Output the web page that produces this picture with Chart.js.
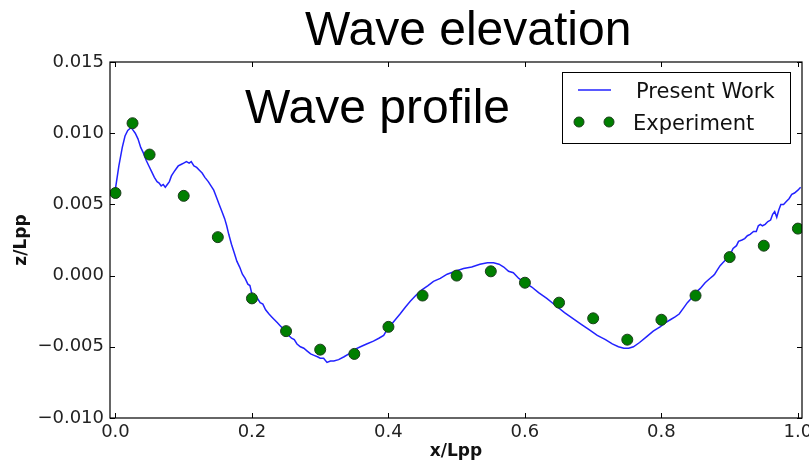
<!DOCTYPE html>
<html>
<head>
<meta charset="utf-8">
<script src="https://cdn.jsdelivr.net/npm/chart.js@4/dist/chart.umd.min.js"></script>
<style>
  html, body { margin: 0; padding: 0; background: #fff; }
  #wave { display: block; }
</style>
</head>
<body>
<canvas id="wave" width="809" height="466"></canvas>
<script>
// Valeurs
const xTicks = [0.0, 0.2, 0.4, 0.6, 0.8, 1.0];
const yTicks = [-0.010, -0.005, 0.000, 0.005, 0.010, 0.015];

const expX = [0.0, 0.025, 0.05, 0.1, 0.15, 0.2, 0.25, 0.3, 0.35, 0.4, 0.45,
              0.5, 0.55, 0.6, 0.65, 0.7, 0.75, 0.8, 0.85, 0.9, 0.95, 1.0];
const expY = [0.0058, 0.0107, 0.0085, 0.0056, 0.0027, -0.0016, -0.0039, -0.0052, -0.0055, -0.0036, -0.0014,
              0.0000, 0.0003, -0.0005, -0.0019, -0.0030, -0.0045, -0.0031, -0.0014, 0.0013, 0.0021, 0.0033];

const workX = [0.000, 0.005, 0.010, 0.014, 0.018, 0.023, 0.026, 0.029, 0.033, 0.037, 0.041, 0.045, 0.049,
               0.053, 0.057, 0.061, 0.064, 0.067, 0.070, 0.073, 0.076, 0.079, 0.082, 0.086, 0.089, 0.092,
               0.096, 0.100, 0.104, 0.108, 0.111, 0.115, 0.119, 0.123, 0.127, 0.131, 0.136, 0.140, 0.144,
               0.148, 0.152, 0.156, 0.160, 0.163, 0.166, 0.170, 0.174, 0.178, 0.182, 0.186, 0.190, 0.194,
               0.197, 0.200, 0.204, 0.208, 0.212, 0.216, 0.220, 0.225, 0.229, 0.233, 0.237, 0.241, 0.245,
               0.250, 0.254, 0.258, 0.262, 0.266, 0.271, 0.276, 0.281, 0.286, 0.291, 0.296, 0.300, 0.305,
               0.310, 0.315, 0.320, 0.327, 0.335, 0.342, 0.350, 0.359, 0.368, 0.378, 0.386, 0.393, 0.398,
               0.403, 0.410, 0.417, 0.425, 0.432, 0.440, 0.449, 0.458, 0.466, 0.476, 0.486, 0.498, 0.510,
               0.522, 0.534, 0.545, 0.554, 0.562, 0.569, 0.576, 0.583, 0.591, 0.600, 0.610, 0.620, 0.632,
               0.645, 0.658, 0.670, 0.682, 0.694, 0.706, 0.718, 0.728, 0.737, 0.745, 0.752, 0.759, 0.768,
               0.778, 0.788, 0.798, 0.806, 0.813, 0.820, 0.826, 0.832, 0.838, 0.844, 0.850, 0.857, 0.864,
               0.871, 0.876, 0.878, 0.882, 0.886, 0.890, 0.896, 0.900, 0.905, 0.910, 0.913, 0.918, 0.922,
               0.926, 0.930, 0.935, 0.939, 0.942, 0.945, 0.948, 0.952, 0.956, 0.960, 0.963, 0.966, 0.969,
               0.972, 0.975, 0.979, 0.983, 0.987, 0.991, 0.995, 1.000, 1.004];
const workY = [0.0061, 0.0077, 0.0090, 0.0098, 0.0102, 0.0104, 0.0102, 0.0100, 0.0096, 0.0090, 0.0086, 0.0081, 0.0077,
               0.0073, 0.0069, 0.0066, 0.0065, 0.0063, 0.0064, 0.0062, 0.0064, 0.0066, 0.0070, 0.0073, 0.0075, 0.0077,
               0.0078, 0.0079, 0.0080, 0.0079, 0.0080, 0.0077, 0.0076, 0.0074, 0.0072, 0.0069, 0.0066, 0.0063, 0.0060,
               0.0055, 0.0050, 0.0045, 0.0040, 0.0035, 0.0029, 0.0022, 0.0016, 0.0010, 0.0006, 0.0001, -0.0002, -0.0006,
               -0.0007, -0.0013, -0.0015, -0.0016, -0.0019, -0.0020, -0.0024, -0.0027, -0.0029, -0.0031, -0.0033, -0.0035, -0.0037,
               -0.0040, -0.0042, -0.0044, -0.0045, -0.0048, -0.0050, -0.0051, -0.0053, -0.0055, -0.0056, -0.0057, -0.0058, -0.0058,
               -0.0061, -0.0060, -0.0060, -0.0059, -0.0057, -0.0055, -0.0052, -0.0050, -0.0048, -0.0046, -0.0044, -0.0042, -0.0038,
               -0.0035, -0.0031, -0.0027, -0.0022, -0.0018, -0.0014, -0.0010, -0.0007, -0.0004, -0.0002, 0.0001, 0.0003, 0.0005,
               0.0006, 0.0008, 0.0009, 0.0009, 0.0008, 0.0006, 0.0003, 0.0002, -0.0002, -0.0005, -0.0008, -0.0012, -0.0016,
               -0.0021, -0.0026, -0.0030, -0.0034, -0.0038, -0.0042, -0.0045, -0.0048, -0.0050, -0.0051, -0.0051, -0.0050, -0.0047,
               -0.0043, -0.0039, -0.0036, -0.0033, -0.0031, -0.0029, -0.0027, -0.0023, -0.0019, -0.0016, -0.0012, -0.0009, -0.0005,
               -0.0002, 0.0000, 0.0001, 0.0004, 0.0007, 0.0009, 0.0012, 0.0014, 0.0019, 0.0021, 0.0024, 0.0025, 0.0026,
               0.0028, 0.0029, 0.0031, 0.0031, 0.0035, 0.0036, 0.0035, 0.0036, 0.0038, 0.0039, 0.0043, 0.0045, 0.0041,
               0.0046, 0.0050, 0.0050, 0.0052, 0.0054, 0.0057, 0.0058, 0.0060, 0.0062];

const lineColor = '#2222ff';
const dotColor = '#007f00';
const dotEdge = '#1c3d1c';
const tickFont = { family: 'DejaVu Sans', size: 18 };
const labelFont = { family: 'DejaVu Sans', size: 17, weight: 'bold' };

// Cadre, graduations vers l'intérieur, légende et textes
const decor = {
    id: 'decor',
    afterDatasetsDraw(chart) {
        const { ctx, chartArea: a, scales: { x, y } } = chart;
        ctx.save();
        ctx.strokeStyle = '#000';
        ctx.lineWidth = 1.2;
        ctx.strokeRect(a.left, a.top, a.right - a.left, a.bottom - a.top);
        ctx.lineWidth = 1;
        ctx.beginPath();
        xTicks.forEach(v => {
            const px = Math.round(x.getPixelForValue(v)) + 0.5;
            ctx.moveTo(px, a.bottom); ctx.lineTo(px, a.bottom - 5);
            ctx.moveTo(px, a.top); ctx.lineTo(px, a.top + 5);
        });
        yTicks.forEach(v => {
            const py = Math.round(y.getPixelForValue(v)) + 0.5;
            ctx.moveTo(a.left, py); ctx.lineTo(a.left + 5, py);
            ctx.moveTo(a.right, py); ctx.lineTo(a.right - 5, py);
        });
        ctx.stroke();

        // légende
        ctx.fillStyle = '#fff';
        ctx.fillRect(562, 72, 228, 71);
        ctx.strokeStyle = '#000';
        ctx.strokeRect(562.5, 72.5, 228, 71);
        ctx.strokeStyle = lineColor;
        ctx.lineWidth = 1.5;
        ctx.beginPath();
        ctx.moveTo(578, 90); ctx.lineTo(611, 90);
        ctx.stroke();
        ctx.fillStyle = dotColor;
        ctx.strokeStyle = dotEdge;
        ctx.lineWidth = 1;
        [579, 609].forEach(cx => {
            ctx.beginPath();
            ctx.arc(cx, 122, 5, 0, Math.PI * 2);
            ctx.fill(); ctx.stroke();
        });
        ctx.fillStyle = '#111';
        ctx.font = '21px "DejaVu Sans"';
        ctx.textAlign = 'left';
        ctx.textBaseline = 'alphabetic';
        ctx.fillText('Present Work', 636, 98);
        ctx.fillText('Experiment', 633, 130);

        // textes
        ctx.fillStyle = '#000';
        ctx.font = '48px "Liberation Sans"';
        ctx.fillText('Wave elevation', 305, 45);
        ctx.fillText('Wave profile', 245, 123);
        ctx.restore();
    }
};

new Chart(document.getElementById('wave'), {
    type: 'scatter',
    data: {
        datasets: [{
            label: 'Experiment',
            data: expX.map((v, i) => ({ x: v, y: expY[i] })),
            backgroundColor: dotColor,
            borderColor: dotEdge,
            borderWidth: 1,
            pointRadius: 5.5,
            order: 0
        }, {
            label: 'Present Work',
            data: workX.map((v, i) => ({ x: v, y: workY[i] })),
            showLine: true,
            borderColor: lineColor,
            borderWidth: 1.5,
            pointRadius: 0,
            tension: 0,
            order: 1
        }]
    },
    options: {
        responsive: false,
        animation: false,
        devicePixelRatio: 1,
        layout: { padding: { top: 62, right: 7, left: 0, bottom: 0 } },
        plugins: {
            legend: { display: false },
            title: { display: false },
            tooltip: { enabled: false }
        },
        scales: {
            x: {
                type: 'linear',
                min: -0.008,
                max: 1.006,
                afterBuildTicks: s => { s.ticks = xTicks.map(v => ({ value: v })); },
                afterFit: s => { s.height = 48; s.paddingLeft = 0; s.paddingRight = 0; },
                grid: { display: false, drawTicks: false },
                border: { display: false },
                ticks: {
                    padding: 4,
                    color: '#222',
                    font: tickFont,
                    maxRotation: 0,
                    callback: v => v.toFixed(1)
                },
                title: { display: true, text: 'x/Lpp', color: '#111', font: labelFont, padding: { top: 0, bottom: 4 } }
            },
            y: {
                min: -0.010,
                max: 0.015,
                afterBuildTicks: s => { s.ticks = yTicks.map(v => ({ value: v })); },
                afterFit: s => { s.width = 110; s.paddingTop = 0; s.paddingBottom = 0; },
                grid: { display: false, drawTicks: false },
                border: { display: false },
                ticks: {
                    padding: 6,
                    color: '#222',
                    font: tickFont,
                    callback: v => v.toFixed(3).replace('-', '\u2212')
                },
                title: { display: true, text: 'z/Lpp', color: '#111', font: labelFont, padding: { top: 11, bottom: 0 } }
            }
        }
    },
    plugins: [decor]
});
</script>
</body>
</html>
